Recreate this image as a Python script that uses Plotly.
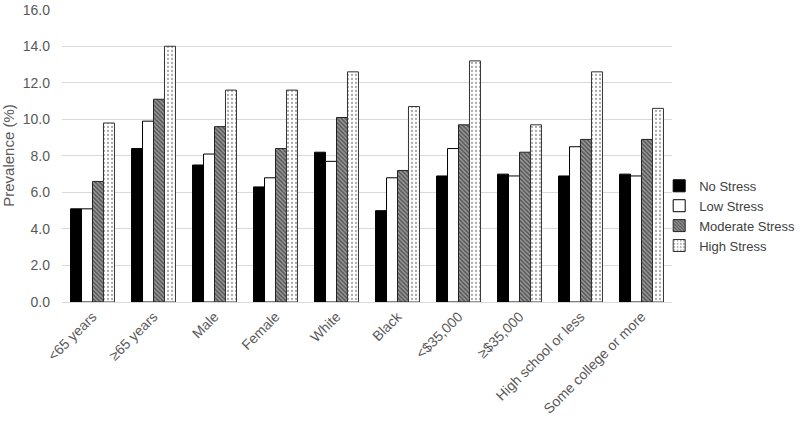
import plotly.graph_objects as go

groups = ['<65 years', '≥65 years', 'Male', 'Female', 'White', 'Black',
          '<$35,000', '≥$35,000', 'High school or less', 'Some college or more']
no_stress = [5.1, 8.4, 7.5, 6.3, 8.2, 5.0, 6.9, 7.0, 6.9, 7.0]
low_stress = [5.1, 9.9, 8.1, 6.8, 7.7, 6.8, 8.4, 6.9, 8.5, 6.9]
moderate_stress = [6.6, 11.1, 9.6, 8.4, 10.1, 7.2, 9.7, 8.2, 8.9, 8.9]
high_stress = [9.8, 14.0, 11.6, 11.6, 12.6, 10.7, 13.2, 9.7, 12.6, 10.6]
y_ticks = [0, 2, 4, 6, 8, 10, 12, 14, 16]

fig = go.Figure()
fig.add_trace(go.Bar(x=groups, y=no_stress, name='No Stress',
                     marker=dict(color='black', line=dict(color='black', width=1))))
fig.add_trace(go.Bar(x=groups, y=low_stress, name='Low Stress',
                     marker=dict(color='white', line=dict(color='black', width=1))))
fig.add_trace(go.Bar(x=groups, y=moderate_stress, name='Moderate Stress',
                     marker=dict(color='white', line=dict(color='#222', width=1),
                                 pattern=dict(shape='\\', fgcolor='#111', bgcolor='#999',
                                              size=3, solidity=0.5))))
fig.add_trace(go.Bar(x=groups, y=high_stress, name='High Stress',
                     marker=dict(color='white', line=dict(color='#333', width=1),
                                 pattern=dict(shape='.', fgcolor='#555', bgcolor='white',
                                              size=4, solidity=0.25))))

fig.update_layout(
    width=800, height=431,
    margin=dict(l=62, r=128, t=9, b=129, autoexpand=False),
    barmode='group', bargap=0.28, bargroupgap=0,
    plot_bgcolor='white', paper_bgcolor='white',
    font=dict(family='Liberation Sans, Arial', size=13, color='#595959'),
    showlegend=True,
    legend=dict(x=0.979, y=0.294, yanchor='middle', xanchor='left',
                itemwidth=30, font=dict(size=13, color='#404040'),
                tracegroupgap=2, bgcolor='rgba(0,0,0,0)'),
    xaxis=dict(tickangle=-45, showline=True, linecolor='#d9d9d9', ticks='',
               automargin=False, tickfont=dict(size=14)),
    yaxis=dict(range=[0, 16.04], tickvals=y_ticks, tickformat='.1f',
               showgrid=True, gridcolor='#d9d9d9', zeroline=False, automargin=False,
               ticklabelstandoff=11, tickfont=dict(size=14),
               title=dict(text='Prevalence (%)', font=dict(size=15, color='#595959'),
                          standoff=6)),
)

# drop the default 8px body margin so the figure fills the window
fig.write_html("out.html", config={'displayModeBar': False},
               post_script="document.body.style.margin='0';")
